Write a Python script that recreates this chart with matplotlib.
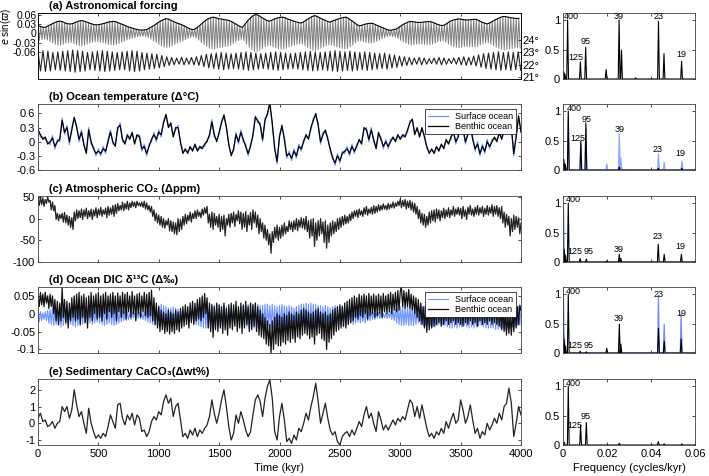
import numpy as np
import matplotlib.pyplot as plt

plt.rcParams['font.family'] = ['Liberation Sans', 'DejaVu Sans']
plt.rcParams['axes.unicode_minus'] = False
plt.rcParams['font.size'] = 8
plt.rcParams['axes.linewidth'] = 0.6
plt.rcParams['xtick.direction'] = 'in'
plt.rcParams['ytick.direction'] = 'in'
plt.rcParams['xtick.top'] = True
plt.rcParams['ytick.right'] = True
plt.rcParams['xtick.major.size'] = 2.5
plt.rcParams['ytick.major.size'] = 2.5
plt.rcParams['xtick.major.width'] = 0.5
plt.rcParams['ytick.major.width'] = 0.5
plt.rcParams['xtick.major.pad'] = 3
plt.rcParams['ytick.major.pad'] = 2

BLUE = '#7094ff'

# ---- (a) astronomical forcing: e sin(w) extremes every 11 kyr, obliquity extremes every 20.5 kyr
prec = [.024, -.023, .022, -.020, .019, -.019, .020, -.022, .025, -.027, .029, -.031, .033, -.035, .037, -.038, .039, -.039, .038, -.036,
        .034, -.032, .031, -.030, .030, -.030, .031, -.033, .035, -.037, .038, -.040, .041, -.041, .040, -.038, .037, -.035, .034, -.032,
        .031, -.029, .028, -.027, .027, -.027, .028, -.029, .030, -.031, .032, -.034, .035, -.036, .037, -.037, .038, -.038, .038, -.036,
        .035, -.033, .031, -.029, .028, -.026, .024, -.022, .020, -.019, .018, -.016, .015, -.014, .013, -.012, .011, -.010, .010, -.010,
        .011, -.011, .012, -.014, .017, -.019, .022, -.025, .027, -.030, .033, -.036, .039, -.041, .043, -.045, .047, -.046, .046, -.044,
        .042, -.040, .038, -.036, .034, -.032, .031, -.029, .028, -.026, .024, -.021, .019, -.017, .015, -.013, .012, -.012, .013, -.016,
        .019, -.022, .026, -.030, .034, -.037, .041, -.043, .046, -.048, .050, -.051, .052, -.051, .050, -.048, .047, -.046, .046, -.045,
        .044, -.043, .043, -.042, .041, -.039, .037, -.034, .032, -.029, .027, -.024, .022, -.020, .019, -.024, .030, -.035, .041, -.045,
        .050, -.053, .057, -.059, .061, -.059, .058, -.055, .052, -.049, .047, -.044, .042, -.040, .039, -.040, .042, -.044, .046, -.047,
        .049, -.050, .051, -.051, .052, -.051, .050, -.048, .046, -.044, .043, -.041, .040, -.038, .037, -.036, .035, -.034, .033, -.035,
        .037, -.040, .043, -.045, .048, -.050, .053, -.055, .057, -.056, .055, -.052, .050, -.048, .046, -.044, .042, -.040, .038, -.037,
        .036, -.038, .040, -.041, .043, -.044, .046, -.047, .049, -.050, .051, -.051, .052, -.049, .047, -.044, .041, -.038, .035, -.031,
        .028, -.026, .024, -.025, .026, -.027, .029, -.030, .031, -.031, .032, -.032, .032, -.030, .028, -.026, .024, -.022, .020, -.018,
        .017, -.015, .013, -.011, .010, -.010, .010, -.011, .012, -.013, .014, -.017, .020, -.023, .026, -.028, .031, -.033, .035, -.036,
        .038, -.038, .038, -.037, .036, -.035, .035, -.035, .035, -.035, .036, -.036, .037, -.037, .038, -.037, .037, -.035, .034, -.032,
        .030, -.028, .027, -.026, .025, -.025, .026, -.029, .032, -.035, .038, -.040, .042, -.043, .044, -.045, .046, -.046, .046, -.045,
        .044, -.043, .043, -.043, .043, -.043, .044, -.044, .045, -.045, .045, -.043, .041, -.038, .036, -.034, .033, -.031, .030, -.031,
        .033, -.035, .038, -.040, .043, -.045, .047, -.049, .051, -.052, .054, -.054, .054, -.053, .052, -.051, .050, -.049, .049, -.048,
        .048, -.048, .048, -.048]

obliq = [23.1, 21.5, 23.15, 21.45, 23.1, 21.5, 23.0, 21.6, 23.05, 21.55,
         23.1, 21.5, 23.15, 21.45, 23.2, 21.4, 23.15, 21.45, 23.1, 21.5,
         23.0, 21.6, 23.05, 21.55, 23.1, 21.5, 23.15, 21.45, 23.1, 21.5,
         23.05, 21.55, 23.0, 21.6, 23.05, 21.6, 23.1, 21.5, 23.15, 21.45,
         23.1, 21.5, 23.0, 21.6, 22.95, 21.65, 22.9, 21.7, 22.85, 21.75,
         22.75, 21.85, 22.65, 21.95, 22.6, 22.0, 22.55, 22.05, 22.6, 22.0,
         22.55, 22.05, 22.6, 22.0, 22.65, 21.95, 22.75, 21.85, 22.85, 21.75,
         22.9, 21.7, 22.95, 21.65, 23.0, 21.6, 22.95, 21.65, 22.9, 21.7,
         22.95, 21.65, 23.0, 21.6, 23.05, 21.55, 23.0, 21.6, 22.95, 21.65,
         22.9, 21.7, 22.95, 21.65, 23.0, 21.6, 23.05, 21.55, 23.0, 21.6,
         22.95, 21.65, 22.9, 21.7, 22.95, 21.65, 23.0, 21.6, 23.05, 21.55,
         23.1, 21.5, 23.05, 21.55, 23.0, 21.6, 23.05, 21.55, 23.1, 21.5,
         23.15, 21.45, 23.1, 21.5, 23.05, 21.55, 23.1, 21.5, 23.05, 21.55,
         23.0, 21.6, 23.05, 21.55, 23.0, 21.6, 22.95, 21.65, 22.9, 21.7,
         22.95, 21.65, 22.85, 21.75, 22.8, 21.8, 22.7, 21.9, 22.65, 21.95,
         22.6, 22.0, 22.55, 22.05, 22.6, 22.0, 22.55, 22.05, 22.5, 22.1,
         22.55, 22.05, 22.6, 22.0, 22.55, 22.05, 22.5, 22.1, 22.55, 22.05,
         22.6, 22.0, 22.65, 21.95, 22.6, 22.0, 22.7, 21.9, 22.8, 21.8,
         22.9, 21.7, 22.95, 21.65, 23.0, 21.6, 23.05, 21.55, 23.0, 21.6,
         23.05, 21.55, 23.0, 21.6, 23.05, 21.55]

# ---- (b) ocean temperature, every 20 kyr
temp_benthic = [0.25, 0.15, 0.05, 0.1, -0.05, 0.0, 0.08, -0.1, 0.0, 0.05,
                0.45, 0.2, 0.3, 0.0, 0.25, 0.52, 0.3, 0.05, 0.2, -0.05,
                -0.25, 0.25, 0.0, -0.15, -0.25, -0.2, -0.25, -0.15, -0.2, 0.0,
                0.2, 0.0, -0.1, 0.3, 0.35, 0.05, -0.05, 0.15, 0.05, 0.2,
                -0.05, 0.15, 0.1, -0.15, -0.1, -0.25, -0.1, 0.05, 0.15, 0.05,
                0.2, 0.15, 0.4, 0.58, 0.3, 0.4, 0.1, 0.3, 0.3, 0.0,
                -0.25, -0.15, -0.25, -0.1, -0.2, -0.05, -0.2, -0.1, -0.15, -0.05,
                0.0, 0.15, 0.42, 0.15, 0.0, 0.2, 0.4, 0.57, 0.3, -0.05,
                -0.3, -0.15, 0.15, 0.0, 0.2, 0.05, -0.1, -0.25, -0.1, 0.15,
                0.52, 0.45, 0.35, 0.05, 0.45, 0.6, 0.82, 0.4, -0.15, -0.42,
                0.1, 0.35, 0.05, -0.3, -0.25, -0.35, -0.2, -0.3, -0.1, -0.15,
                0.0, 0.15, 0.05, 0.3, 0.45, 0.6, 0.35, 0.0, 0.15, 0.25,
                0.05, -0.15, -0.35, -0.45, -0.3, -0.4, -0.25, -0.2, -0.15, -0.25,
                -0.1, -0.2, -0.1, 0.05, -0.05, 0.3, 0.25, 0.05, 0.25, 0.05,
                -0.15, 0.2, 0.05, -0.1, 0.0, -0.1, 0.0, 0.1, 0.0, 0.15,
                0.05, 0.15, 0.1, 0.25, 0.4, 0.48, 0.15, 0.3, 0.1, 0.3,
                0.1, -0.1, -0.25, -0.15, -0.25, -0.1, -0.2, -0.05, -0.15, 0.05,
                -0.05, 0.1, 0.2, 0.0, 0.1, 0.4, 0.25, 0.0, 0.15, 0.35,
                0.05, -0.15, -0.05, -0.25, -0.1, -0.2, 0.0, -0.1, 0.0, 0.1,
                0.0, 0.2, 0.05, 0.25, 0.3, 0.45, 0.3, -0.25, 0.1, 0.55,
                0.2]
temp_surface = [0.3, 0.1, 0.1, 0.05, 0.0, -0.06, 0.13, -0.16, 0.05, 0.0,
                0.5, 0.15, 0.35, -0.06, 0.3, 0.5, 0.35, 0.0, 0.25, -0.1,
                -0.2, 0.3, -0.05, -0.1, -0.3, -0.15, -0.3, -0.1, -0.25, 0.05,
                0.25, -0.05, -0.05, 0.25, 0.4, 0.0, 0.0, 0.1, 0.1, 0.15,
                0.0, 0.1, 0.15, -0.2, -0.05, -0.3, -0.05, 0.0, 0.2, 0.0,
                0.25, 0.1, 0.45, 0.55, 0.35, 0.35, 0.15, 0.25, 0.35, -0.05,
                -0.2, -0.2, -0.2, -0.15, -0.15, -0.1, -0.15, -0.15, -0.1, -0.1,
                0.05, 0.1, 0.47, 0.1, 0.05, 0.15, 0.45, 0.52, 0.35, -0.1,
                -0.25, -0.2, 0.2, -0.05, 0.25, 0.0, -0.05, -0.3, -0.05, 0.1,
                0.55, 0.4, 0.4, 0.0, 0.5, 0.55, 0.8, 0.35, -0.1, -0.47,
                0.15, 0.3, 0.1, -0.35, -0.2, -0.4, -0.15, -0.35, -0.05, -0.2,
                0.05, 0.1, 0.1, 0.25, 0.5, 0.55, 0.4, -0.05, 0.2, 0.2,
                0.1, -0.2, -0.3, -0.5, -0.25, -0.45, -0.2, -0.25, -0.1, -0.3,
                -0.05, -0.25, -0.05, 0.0, 0.0, 0.25, 0.3, 0.0, 0.3, 0.0,
                -0.1, 0.15, 0.1, -0.15, 0.05, -0.15, 0.05, 0.05, 0.05, 0.1,
                0.1, 0.1, 0.15, 0.2, 0.45, 0.45, 0.2, 0.25, 0.15, 0.25,
                0.15, -0.15, -0.2, -0.2, -0.2, -0.15, -0.15, -0.1, -0.1, 0.0,
                0.0, 0.05, 0.25, -0.05, 0.15, 0.35, 0.3, -0.05, 0.2, 0.3,
                0.1, -0.2, 0.0, -0.3, -0.05, -0.25, 0.05, -0.15, 0.05, 0.05,
                0.05, 0.15, 0.1, 0.2, 0.35, 0.4, 0.35, -0.3, 0.15, 0.5,
                0.25]

# ---- (c) atmospheric CO2, every 10 kyr
co2 = [45, 30, 50, 32, 48, 28, 44, 35, 50, 38,
       42, 20, 38, 18, 30, -2, 12, -5, 10, 0,
       12, -8, 14, -10, 8, -15, 5, -20, 2, -25,
       15, -5, 20, 0, 18, 2, 22, -2, 20, 5,
       24, 0, 18, 4, 22, -2, 20, 6, 25, 2,
       22, 8, 26, 5, 20, 10, 24, 2, 28, 8,
       25, 10, 30, 5, 32, 12, 35, 18, 30, 20,
       38, 18, 35, 22, 40, 20, 36, 25, 40, 28,
       38, 25, 40, 30, 36, 28, 38, 26, 40, 22,
       36, 20, 30, 15, 28, 5, 20, -5, 12, -10,
       8, -15, 5, -20, 0, -22, -5, -15, 0, -28,
       -5, -30, -8, -35, -10, -37, 0, -30, -2, -25,
       5, -15, 10, -12, 8, -5, 15, -8, 12, 0,
       18, 0, 20, 5, 15, 2, 22, 8, 25, 12,
       28, -10, 10, -20, 15, -25, 12, -15, 5, -20,
       10, -30, 5, -25, 8, -40, 0, -15, 10, -20,
       12, -10, 15, -18, 10, -5, 18, -12, 15, -25,
       12, -20, 16, -30, 8, -15, 14, -25, 20, -10,
       15, -20, 8, -35, 0, -30, -10, -45, -15, -50,
       -25, -60, -35, -80, -30, -55, -20, -45, -15, -50,
       -20, -45, -15, -40, -10, -35, -18, -30, -5, -25,
       -8, -30, -5, -25, 0, -28, -3, -20, 2, -22,
       0, -25, 5, -30, -5, -45, -2, -40, 0, -64,
       -10, -50, -5, -40, 0, -35, -8, -55, -5, -68,
       -15, -55, -10, -40, -5, -35, -8, -30, 0, -25,
       2, -20, 5, -15, 8, -12, 5, -10, 10, -5,
       15, 0, 18, 5, 20, 2, 22, 8, 18, 5,
       25, 10, 28, 8, 22, 12, 26, 10, 30, 12,
       28, 15, 32, 18, 30, 20, 34, 22, 30, 20,
       35, 22, 33, 25, 38, 24, 36, 28, 40, 30,
       45, 25, 42, 28, 44, 22, 40, 25, 42, 20,
       38, 15, 35, 10, 28, 0, 20, -10, 12, -15,
       10, -20, 5, -15, 15, -10, 18, -5, 20, -8,
       22, 0, 20, -5, 18, 2, 24, 0, 20, 5,
       25, 2, 20, 8, 28, 5, 22, 10, 26, 8,
       24, 0, 28, 5, 20, -2, 26, 10, 30, 8,
       22, 5, 26, 10, 30, 8, 25, 12, 28, 5,
       24, 10, 30, 8, 26, 12, 32, 5, 28, 10,
       30, 5, 25, 0, 28, -10, 15, -20, 10, -15,
       5, -40, 0, -30, 8, -25, 5, -20, 2, -35,
       -10]

# ---- (d) ocean DIC d13C, every 10 kyr
dic_benthic = [0.05, 0.02, 0.06, 0.025, 0.055, 0.02, 0.06, 0.03, 0.05, 0.015,
               0.055, 0.02, 0.05, 0.0, 0.04, -0.02, 0.035, -0.03, 0.03, -0.02,
               0.073, -0.01, 0.04, -0.025, 0.035, -0.04, 0.03, -0.02, 0.045, -0.01,
               0.05, -0.02, 0.055, -0.015, 0.06, -0.03, 0.05, -0.01, 0.055, -0.025,
               0.045, -0.04, 0.05, -0.01, 0.06, -0.02, 0.05, 0.0, 0.055, -0.015,
               0.06, -0.01, 0.05, -0.02, 0.055, 0.0, 0.06, -0.015, 0.05, 0.005,
               0.055, -0.01, 0.06, 0.0, 0.05, -0.02, 0.058, 0.005, 0.05, -0.01,
               0.06, 0.0, 0.055, -0.015, 0.06, 0.005, 0.05, -0.01, 0.062, 0.0,
               0.05, -0.02, 0.055, 0.0, 0.058, -0.01, 0.05, 0.005, 0.06, -0.005,
               0.055, -0.01, 0.06, -0.005, 0.066, -0.02, 0.045, -0.03, 0.03, -0.04,
               0.02, -0.05, 0.01, -0.045, 0.005, -0.055, 0.0, -0.05, 0.01, -0.057,
               0.005, -0.05, 0.0, -0.055, 0.01, -0.045, 0.005, -0.05, 0.015, -0.04,
               0.02, -0.035, 0.025, -0.03, 0.02, -0.04, 0.03, -0.025, 0.035, -0.03,
               0.03, -0.02, 0.04, -0.015, 0.045, -0.02, 0.05, -0.01, 0.057, 0.0,
               0.045, -0.04, 0.03, -0.05, 0.025, -0.066, 0.02, -0.045, 0.03, -0.05,
               0.025, -0.04, 0.02, -0.055, 0.03, -0.045, 0.015, -0.06, 0.025, -0.04,
               0.03, -0.045, 0.025, -0.035, 0.035, -0.05, 0.02, -0.04, 0.03, -0.055,
               0.025, -0.04, 0.035, -0.03, 0.02, -0.05, 0.03, -0.045, 0.025, -0.035,
               0.03, -0.05, 0.02, -0.06, 0.01, -0.065, 0.0, -0.07, -0.01, -0.085,
               -0.02, -0.09, -0.03, -0.11, -0.02, -0.1, -0.01, -0.085, 0.0, -0.09,
               -0.005, -0.09, -0.01, -0.08, 0.0, -0.085, -0.005, -0.075, 0.005, -0.08,
               0.0, -0.07, -0.005, -0.08, 0.005, -0.065, 0.0, -0.07, 0.01, -0.06,
               0.015, -0.055, 0.01, -0.06, 0.005, -0.07, 0.0, -0.065, 0.005, -0.085,
               0.01, -0.06, 0.015, -0.055, 0.005, -0.07, 0.0, -0.075, 0.005, -0.1,
               -0.005, -0.08, 0.0, -0.07, 0.01, -0.06, 0.015, -0.05, 0.02, -0.045,
               0.025, -0.04, 0.02, -0.035, 0.03, -0.04, 0.035, -0.03, 0.04, -0.025,
               0.045, -0.02, 0.05, -0.01, 0.045, -0.015, 0.055, -0.005, 0.05, -0.01,
               0.055, 0.0, 0.05, -0.015, 0.057, -0.005, 0.05, 0.0, 0.055, -0.01,
               0.05, -0.005, 0.055, 0.0, 0.05, -0.01, 0.057, 0.005, 0.05, 0.0,
               0.055, 0.005, 0.06, 0.0, 0.055, 0.01, 0.06, 0.005, 0.065, 0.01,
               0.062, 0.073, 0.02, 0.065, 0.015, 0.06, 0.02, 0.068, 0.015, 0.055,
               0.01, 0.05, 0.0, 0.045, -0.01, 0.04, -0.02, 0.03, -0.03, 0.02,
               -0.04, 0.02, -0.052, 0.025, -0.045, 0.03, -0.04, 0.025, -0.035, 0.03,
               -0.03, 0.035, -0.025, 0.03, -0.035, 0.04, -0.03, 0.035, -0.02, 0.03,
               -0.03, 0.035, -0.025, 0.04, -0.02, 0.03, -0.03, 0.035, -0.025, 0.04,
               -0.03, 0.03, -0.035, 0.035, -0.025, 0.03, -0.03, 0.04, -0.02, 0.035,
               -0.03, 0.03, -0.025, 0.035, -0.035, 0.03, -0.02, 0.04, -0.03, 0.03,
               -0.025, 0.035, -0.03, 0.03, -0.02, 0.035, -0.03, 0.03, -0.025, 0.035,
               -0.03, 0.03, -0.035, 0.02, -0.045, 0.015, -0.05, 0.01, -0.06, 0.005,
               -0.055, 0.0, -0.06, 0.01, -0.05, 0.015, -0.04, 0.02, -0.03, 0.024,
               0.01]
dic_surface = [0.009, -0.023, 0.006, -0.019, 0.002, -0.016, 0.006, -0.019, 0.009, -0.026,
               0.013, -0.03, 0.016, -0.033, 0.013, -0.03, 0.016, -0.033, 0.02, -0.037,
               0.016, -0.033, 0.013, -0.03, 0.009, -0.026, 0.013, -0.03, 0.016, -0.033,
               0.02, -0.037, 0.016, -0.033, 0.02, -0.033, 0.016, -0.03, 0.013, -0.026,
               0.009, -0.026, 0.013, -0.026, 0.016, -0.03, 0.013, -0.026, 0.009, -0.023,
               0.013, -0.026, 0.016, -0.03, 0.02, -0.033, 0.016, -0.03, 0.013, -0.026,
               0.016, -0.03, 0.02, -0.033, 0.016, -0.03, 0.013, -0.026, 0.009, -0.023,
               0.009, -0.019, 0.006, -0.019, 0.006, -0.016, 0.002, -0.016, 0.006, -0.012,
               0.002, -0.016, 0.002, -0.012, 0.003, -0.013, 0.002, -0.016, 0.006, -0.019,
               0.009, -0.023, 0.013, -0.026, 0.016, -0.03, 0.02, -0.033, 0.023, -0.037,
               0.023, -0.037, 0.027, -0.033, 0.023, -0.037, 0.02, -0.033, 0.016, -0.03,
               0.016, -0.033, 0.02, -0.033, 0.016, -0.026, 0.013, -0.026, 0.009, -0.023,
               0.006, -0.019, 0.002, -0.016, 0.003, -0.016, 0.006, -0.019, 0.013, -0.026,
               0.016, -0.03, 0.02, -0.033, 0.023, -0.037, 0.027, -0.04, 0.027, -0.04,
               0.027, -0.04, 0.023, -0.037, 0.027, -0.04, 0.023, -0.037, 0.02, -0.033,
               0.023, -0.037, 0.02, -0.033, 0.023, -0.037, 0.02, -0.033, 0.016, -0.03,
               0.016, -0.03, 0.013, -0.026, 0.009, -0.023, 0.013, -0.026, 0.016, -0.03,
               0.02, -0.033, 0.023, -0.037, 0.027, -0.04, 0.03, -0.04, 0.027, -0.04,
               0.03, -0.04, 0.027, -0.037, 0.023, -0.033, 0.023, -0.037, 0.027, -0.04,
               0.027, -0.033, 0.023, -0.037, 0.027, -0.04, 0.023, -0.037, 0.02, -0.033,
               0.023, -0.037, 0.027, -0.04, 0.023, -0.037, 0.02, -0.033, 0.023, -0.037,
               0.02, -0.033, 0.016, -0.03, 0.02, -0.033, 0.023, -0.037, 0.027, -0.04,
               0.027, -0.04, 0.03, -0.04, 0.027, -0.04, 0.03, -0.044, 0.027, -0.04,
               0.027, -0.04, 0.023, -0.037, 0.023, -0.037, 0.02, -0.033, 0.023, -0.037,
               0.02, -0.033, 0.016, -0.03, 0.02, -0.033, 0.023, -0.037, 0.02, -0.033,
               0.02, -0.033, 0.023, -0.037, 0.02, -0.033, 0.016, -0.03, 0.013, -0.026,
               0.016, -0.03, 0.013, -0.026, 0.009, -0.023, 0.013, -0.026, 0.009, -0.023,
               0.013, -0.026, 0.009, -0.019, 0.006, -0.019, 0.006, -0.016, 0.002, -0.016,
               0.002, -0.012, 0.003, -0.013, 0.002, -0.013, 0.001, -0.012, 0.002, -0.013,
               0.002, -0.012, 0.006, -0.016, 0.009, -0.019, 0.013, -0.026, 0.016, -0.03,
               0.02, -0.033, 0.02, -0.033, 0.016, -0.03, 0.02, -0.033, 0.023, -0.033,
               0.02, -0.033, 0.016, -0.03, 0.013, -0.026, 0.016, -0.03, 0.02, -0.033,
               0.02, -0.033, 0.016, -0.03, 0.02, -0.033, 0.023, -0.037, 0.023, -0.037,
               0.02, -0.033, 0.016, -0.03, 0.016, -0.03, 0.02, -0.033, 0.023, -0.037,
               0.027, -0.04, 0.027, -0.04, 0.023, -0.037, 0.027, -0.04, 0.023, -0.037,
               0.023, -0.037, 0.02, -0.033, 0.023, -0.037, 0.027, -0.04, 0.023, -0.037,
               0.027, -0.04, 0.023, -0.037, 0.02, -0.033, 0.02, -0.033, 0.023, -0.037,
               0.027, -0.04, 0.03, -0.04, 0.027, -0.04, 0.027, -0.04, 0.03, -0.044,
               0.03, -0.044, 0.03, -0.04, 0.027, -0.04, 0.03, -0.044, 0.027, -0.04,
               0.027, -0.04, 0.023, -0.037, 0.023, -0.037, 0.02, -0.033, 0.02, -0.033,
               0.016]

# ---- (e) sedimentary CaCO3, every 20 kyr
caco3 = [0.3, 0.6, 0.1, 0.2, -0.2, -0.1, 0.1, -0.3, 0.0, 0.1,
         1.0, 0.7, 1.0, 0.3, 0.8, 2.0, 1.1, 0.4, 0.7, 0.0,
         -0.6, 0.9, 0.0, -0.5, -0.9, -0.7, -0.9, -0.6, -0.8, -0.2,
         0.5, 0.1, -0.3, 1.1, 1.2, 0.3, -0.1, 0.5, 0.2, 0.6,
         -0.1, 0.5, 0.3, -0.5, -0.4, -0.8, -0.5, 0.1, 0.4, 0.2,
         0.7, 0.5, 1.3, 1.7, 1.2, 1.5, 0.4, 1.0, 1.2, 0.2,
         -0.8, -0.6, -0.9, -0.4, -0.7, -0.3, -0.8, -0.4, -0.6, -0.3,
         -0.1, 0.4, 1.4, 0.6, 0.0, 0.6, 1.4, 2.0, 1.0, -0.2,
         -1.0, -0.6, 0.5, 0.0, 0.7, 0.2, -0.4, -0.8, -0.5, 0.5,
         1.4, 1.7, 1.3, 0.4, 1.5, 2.2, 2.6, 1.5, -0.5, -1.0,
         0.4, 1.2, 0.2, -1.1, -0.9, -1.2, -0.7, -1.0, -0.3, -0.5,
         0.0, 0.6, 0.2, 1.0, 1.6, 2.4, 1.3, 0.0, 0.6, 1.2,
         0.3, -0.4, -0.7, -0.5, -1.1, -1.3, -0.8, -0.6, -0.5, -0.8,
         -0.4, -0.7, -0.3, 0.1, -0.2, 0.5, 1.0, 0.3, 0.6, 0.0,
         -0.5, 0.7, 0.2, -0.4, -0.1, -0.4, -0.1, 0.2, -0.1, 0.3,
         0.1, 0.4, 0.2, 0.8, 1.4, 1.2, 0.4, 1.0, 0.3, 1.1,
         0.4, -0.3, -0.8, -0.6, -0.9, -0.5, -0.7, -0.3, -0.6, 0.1,
         -0.3, 0.2, 0.6, 0.0, 0.2, 1.4, 0.8, 0.0, 0.4, 1.1,
         0.2, -0.6, -0.3, -0.9, -0.5, -0.7, 0.0, -0.4, -0.1, 0.3,
         0.0, 0.6, 0.2, 1.0, 1.2, 2.1, 1.2, -0.8, 0.0, 1.0,
         0.5]

# ---- normalised spectra: peak frequency (cycles/kyr) and power
spec_a_f = [0.0004, 0.0009, 0.0021, 0.0079, 0.0103, 0.0196, 0.0255, 0.0266, 0.033, 0.0434, 0.0459, 0.0539]
spec_a_p = [0.12, 0.08, 1.0, 0.29, 0.54, 0.16, 1.0, 0.49, 0.02, 0.98, 0.43, 0.30]
spec_b_f = [0.0004, 0.001, 0.0024, 0.0081, 0.0104, 0.0256, 0.0433, 0.054]
spec_b_p = [0.18, 0.1, 1.0, 0.49, 0.80, 0.05, 0.03, 0.03]
spec_b_blue_f = [0.0024, 0.0081, 0.0104, 0.0199, 0.0256, 0.0263, 0.0434, 0.046, 0.0541]
spec_b_blue_p = [0.9, 0.45, 0.7, 0.1, 0.6, 0.2, 0.27, 0.13, 0.15]
spec_c_f = [0.0005, 0.0011, 0.0024, 0.0078, 0.0106, 0.0199, 0.0256, 0.0263, 0.0433, 0.046, 0.0538]
spec_c_p = [0.22, 0.12, 1.0, 0.06, 0.05, 0.02, 0.13, 0.06, 0.30, 0.13, 0.13]
spec_c_blue_f = [0.0002]
spec_c_blue_p = [1.0]
spec_d_f = [0.0005, 0.0011, 0.0024, 0.0078, 0.0106, 0.0199, 0.0256, 0.0263, 0.0434, 0.046, 0.0537]
spec_d_p = [0.23, 0.12, 1.0, 0.03, 0.02, 0.08, 0.49, 0.15, 0.42, 0.2, 0.24]
spec_d_blue_f = [0.0002, 0.0006, 0.0434, 0.046, 0.0537]
spec_d_blue_p = [1.0, 0.3, 0.97, 0.49, 0.67]
spec_e_f = [0.0005, 0.0024, 0.008, 0.0106, 0.0256, 0.0433, 0.046, 0.054]
spec_e_p = [0.05, 1.0, 0.33, 0.38, 0.03, 0.06, 0.02, 0.02]

# period labels: (text, freq, height)
labels_a = [('400', 0.0038, 1.06), ('125', 0.0060, 0.36), ('95', 0.0103, 0.63), ('39', 0.0255, 1.06), ('23', 0.0433, 1.06), ('19', 0.0539, 0.42)]
labels_b = [('400', 0.0050, 1.05), ('125', 0.0066, 0.54), ('95', 0.0106, 0.86), ('39', 0.0256, 0.69), ('23', 0.0428, 0.35), ('19', 0.0535, 0.28)]
labels_c = [('400', 0.0048, 1.06), ('125', 0.0055, 0.17), ('95', 0.0118, 0.17), ('39', 0.0255, 0.21), ('23', 0.0428, 0.43), ('19', 0.0535, 0.26)]
labels_d = [('400', 0.0048, 1.04), ('125', 0.0055, 0.13), ('95', 0.0118, 0.12), ('39', 0.0255, 0.59), ('23', 0.0434, 1.0), ('19', 0.0537, 0.67)]
labels_e = [('400', 0.0048, 1.04), ('125', 0.0056, 0.33), ('95', 0.0105, 0.48)]

titles = ['(a) Astronomical forcing', '(b) Ocean temperature (Δ°C)', '(c) Atmospheric CO₂ (Δppm)',
          '(d) Ocean DIC δ¹³C (Δ‰)', '(e) Sedimentary CaCO₃(Δwt%)']


def spikes(f, p, w=0.0004):
    xs, ys = [0], [0]
    for fi, pi in sorted(zip(f, p)):
        xs += [fi - w, fi, fi + w]
        ys += [0, pi, 0]
    xs.append(0.06)
    ys.append(0)
    return xs, ys


W, H = 709, 476
fig = plt.figure(figsize=(7.09, 4.76), dpi=100)
tops = [13, 104, 196, 287, 379]
ph = 66


def box(x0, x1, top):
    return [x0 / W, 1 - (top + ph) / H, (x1 - x0) / W, ph / H]


left = [fig.add_axes(box(38, 521, t)) for t in tops]
right = [fig.add_axes(box(563, 695, t)) for t in tops]

t10 = np.arange(0, 4001, 10)
t20 = np.arange(0, 4001, 20)
t_prec = np.arange(len(prec)) * 11
t_obl = np.arange(len(obliq)) * 20.5
prec = np.array(prec)

# (a)
ax = left[0]
ax.plot(t_prec, prec, color='#7d7d7d', lw=0.7)
ax.plot(t_prec[::2], prec[::2], color='k', lw=0.8)
ax.set_ylim(-0.148, 0.0655)
ax.set_yticks([0.06, 0.03, 0, -0.03, -0.06])
ax.set_yticklabels(['0.06', '0.03', '0', '-0.03', '-0.06'])
ax.tick_params(axis='y', labelsize=7.5, pad=1)
ax.set_ylabel(r'$e$ sin($\varpi$)', fontsize=7)
ax.yaxis.set_label_coords(-0.052, 0.8)
ax.tick_params(right=False)
tw = ax.twinx()
tw.plot(t_obl, obliq, color='#222222', lw=0.8)
tw.set_ylim(20.85, 26.2)
tw.set_yticks([21, 22, 23, 24])
tw.set_yticklabels(['21°', '22°', '23°', '24°'])
tw.tick_params(direction='in', length=2.5, width=0.5, pad=1)

# (b)
ax = left[1]
ax.plot(t20, temp_surface, color=BLUE, lw=0.9, label='Surface ocean')
ax.plot(t20, temp_benthic, color='k', lw=0.9, label='Benthic ocean')
ax.set_ylim(-0.6, 0.8)
ax.set_yticks([0.6, 0.3, 0, -0.3, -0.6])
ax.set_yticklabels(['0.6', '0.3', '0', '-0.3', '-0.6'])

# (c)
ax = left[2]
ax.plot(t10, co2, color='#222222', lw=0.9)
ax.set_ylim(-100, 52)
ax.set_yticks([50, 0, -50, -100])

# (d)
ax = left[3]
ax.plot(t10, dic_surface, color=BLUE, lw=0.8, label='Surface ocean')
ax.plot(t10, dic_benthic, color='#111111', lw=0.9, label='Benthic ocean')
ax.set_ylim(-0.11, 0.075)
ax.set_yticks([0.05, 0, -0.05, -0.1])
ax.set_yticklabels(['0.05', '0', '-0.05', '-0.1'])

# (e)
ax = left[4]
ax.plot(t20, caco3, color='#222222', lw=0.9)
ax.set_ylim(-1.3, 2.65)
ax.set_yticks([2, 1, 0, -1])
ax.set_xlabel('Time (kyr)', fontsize=8, labelpad=3)

for i, ax in enumerate(left):
    ax.set_xlim(0, 4000)
    ax.set_xticks(np.arange(0, 4001, 500))
    if i < 4:
        ax.set_xticklabels([])
    ax.text(0.023, 1.025, titles[i], transform=ax.transAxes, fontsize=8, fontweight='bold',
            ha='left', va='bottom')
    for s in ax.spines.values():
        s.set_color('#444444')

for ax in (left[1], left[3]):
    leg = ax.legend(loc='upper right', fontsize=6.5, fancybox=False, edgecolor='k', framealpha=1,
                    borderpad=0.3, handlelength=2.2, labelspacing=0.15, handletextpad=0.8,
                    borderaxespad=0.6)
    leg.get_frame().set_linewidth(0.5)

# spectra
spec = [(spec_a_f, spec_a_p, None, None, labels_a, None),
        (spec_b_f, spec_b_p, spec_b_blue_f, spec_b_blue_p, labels_b, '#8aa6ff'),
        (spec_c_f, spec_c_p, spec_c_blue_f, spec_c_blue_p, labels_c, '#5b9bd5'),
        (spec_d_f, spec_d_p, spec_d_blue_f, spec_d_blue_p, labels_d, '#6f8cff'),
        (spec_e_f, spec_e_p, None, None, labels_e, None)]
for i, (ax, (f, p, fb, pb, labs, bc)) in enumerate(zip(right, spec)):
    if fb is not None:
        xs, ys = spikes(fb, pb)
        ax.plot(xs, ys, color=bc, lw=0.9)
    xs, ys = spikes(f, p)
    ax.plot(xs, ys, color='k', lw=0.8)
    for txt, fx, fy in labs:
        ax.text(fx, fy, txt, fontsize=6.5, ha='center', va='center')
    ax.set_xlim(0, 0.06)
    ax.set_ylim(0, 1.12)
    ax.set_xticks([0, 0.02, 0.04, 0.06])
    ax.set_yticks([0, 0.5, 1])
    ax.set_yticklabels(['0', '0.5', '1'])
    if i < 4:
        ax.set_xticklabels([])
    else:
        ax.set_xticklabels(['0', '0.02', '0.04', '0.06'])
        ax.set_xlabel('Frequency (cycles/kyr)', fontsize=8, labelpad=3)
    for s in ax.spines.values():
        s.set_color('#444444')

fig.savefig('out.png', dpi=100)
